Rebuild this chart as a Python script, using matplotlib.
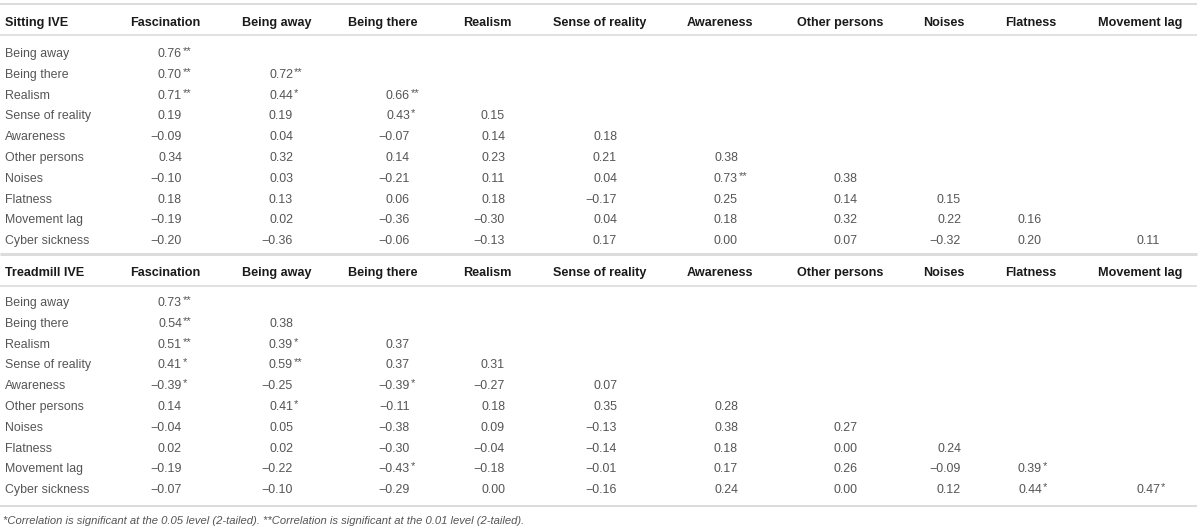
import matplotlib
matplotlib.use("Agg")
import matplotlib.pyplot as plt

# ---- data ----
col_labels = ["Fascination", "Being away", "Being there", "Realism", "Sense of reality",
              "Awareness", "Other persons", "Noises", "Flatness", "Movement lag"]
row_labels = ["Being away", "Being there", "Realism", "Sense of reality", "Awareness",
              "Other persons", "Noises", "Flatness", "Movement lag", "Cyber sickness"]

sitting_title = "Sitting IVE"
sitting_values = [
    [0.76],
    [0.70, 0.72],
    [0.71, 0.44, 0.66],
    [0.19, 0.19, 0.43, 0.15],
    [-0.09, 0.04, -0.07, 0.14, 0.18],
    [0.34, 0.32, 0.14, 0.23, 0.21, 0.38],
    [-0.10, 0.03, -0.21, 0.11, 0.04, 0.73, 0.38],
    [0.18, 0.13, 0.06, 0.18, -0.17, 0.25, 0.14, 0.15],
    [-0.19, 0.02, -0.36, -0.30, 0.04, 0.18, 0.32, 0.22, 0.16],
    [-0.20, -0.36, -0.06, -0.13, 0.17, 0.00, 0.07, -0.32, 0.20, 0.11],
]
sitting_sig = [
    [2],
    [2, 2],
    [2, 1, 2],
    [0, 0, 1, 0],
    [0, 0, 0, 0, 0],
    [0, 0, 0, 0, 0, 0],
    [0, 0, 0, 0, 0, 2, 0],
    [0, 0, 0, 0, 0, 0, 0, 0],
    [0, 0, 0, 0, 0, 0, 0, 0, 0],
    [0, 0, 0, 0, 0, 0, 0, 0, 0, 0],
]

treadmill_title = "Treadmill IVE"
treadmill_values = [
    [0.73],
    [0.54, 0.38],
    [0.51, 0.39, 0.37],
    [0.41, 0.59, 0.37, 0.31],
    [-0.39, -0.25, -0.39, -0.27, 0.07],
    [0.14, 0.41, -0.11, 0.18, 0.35, 0.28],
    [-0.04, 0.05, -0.38, 0.09, -0.13, 0.38, 0.27],
    [0.02, 0.02, -0.30, -0.04, -0.14, 0.18, 0.00, 0.24],
    [-0.19, -0.22, -0.43, -0.18, -0.01, 0.17, 0.26, -0.09, 0.39],
    [-0.07, -0.10, -0.29, 0.00, -0.16, 0.24, 0.00, 0.12, 0.44, 0.47],
]
treadmill_sig = [
    [2],
    [2, 0],
    [2, 1, 0],
    [1, 2, 0, 0],
    [1, 0, 1, 0, 0],
    [0, 1, 0, 0, 0, 0],
    [0, 0, 0, 0, 0, 0, 0],
    [0, 0, 0, 0, 0, 0, 0, 0],
    [0, 0, 1, 0, 0, 0, 0, 0, 1],
    [0, 0, 0, 0, 0, 0, 0, 0, 1, 1],
]

footnote = ("*Correlation is significant at the 0.05 level (2-tailed). "
            "**Correlation is significant at the 0.01 level (2-tailed).")

# ---- layout ----
W, H = 1200, 529
FONT = "Liberation Sans"
header_left = [130, 242, 348, 463, 553, 687, 797, 923, 1005, 1098]
value_right = [182, 293, 410, 505, 617, 738, 857, 961, 1042, 1160]
label_x = 5
row_h = 20.8
BODY = "#555555"
HEAD = "#1a1a1a"
LINE = "#dcdcdc"

fig = plt.figure(figsize=(W / 100, H / 100), dpi=100)
ax = fig.add_axes([0, 0, 1, 1])
ax.set_xlim(0, W)
ax.set_ylim(H, 0)
ax.axis("off")

def fmt(v):
    s = f"{abs(v):.2f}"
    return ("\u2212" + s) if v < 0 else s

def draw_block(title, values, sig, header_base, first_row_base):
    ax.text(label_x, header_base, title, fontfamily=FONT, fontweight="bold",
            fontsize=9.1, color=HEAD, va="baseline", ha="left")
    for x, lab in zip(header_left, col_labels):
        ax.text(x, header_base, lab, fontfamily=FONT, fontweight="bold",
                fontsize=9.1, color=HEAD, va="baseline", ha="left")
    for i, (lab, vals, sg) in enumerate(zip(row_labels, values, sig)):
        y = round(first_row_base + i * row_h)
        ax.text(label_x, y, lab, fontfamily=FONT, fontsize=8.9, color=BODY,
                va="baseline", ha="left")
        for j, (v, s) in enumerate(zip(vals, sg)):
            ax.text(value_right[j], y, fmt(v), fontfamily=FONT, fontsize=8.9,
                    color=BODY, va="baseline", ha="right")
            if s:
                ax.text(value_right[j] + 0.3, y - 2.5, "*" * s, fontfamily=FONT,
                        fontsize=8.0, color=BODY, va="baseline", ha="left")

for yl, lw in [(4, 1.4), (35, 1.2), (254, 2.2), (286, 1.2), (506, 1.4)]:
    ax.hlines(yl, 0, 1197, color=LINE, lw=lw)

draw_block(sitting_title, sitting_values, sitting_sig, 26, 57)
draw_block(treadmill_title, treadmill_values, treadmill_sig, 276, 306)

ax.text(3, 524, footnote, fontfamily=FONT, fontstyle="italic", fontsize=8.1,
        color="#555555", va="baseline", ha="left")

fig.savefig("out.png", dpi=100)
